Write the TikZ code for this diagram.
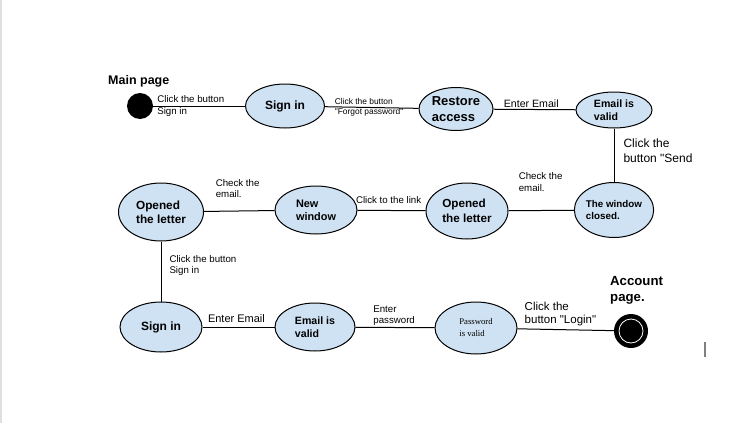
\documentclass[tikz,border=0pt]{standalone}
\usepackage{fontspec}
\setmainfont{Liberation Sans}[Ligatures=TeXOff]
\newfontfamily\timesfont{Liberation Serif}
\usepackage{tikz}
\usetikzlibrary{shapes.geometric}
\definecolor{stateblue}{HTML}{CFE2F3}
\newcommand{\setfs}[2]{\fontsize{#1}{#2}\selectfont}
\tikzstyle{state} = [draw,ellipse,fill=stateblue,line width=1pt,inner sep=0pt,align=left]
\tikzstyle{terminal} = [circle,fill=black,inner sep=0pt]
\tikzstyle{line} = [line width=1pt]
\tikzstyle{lbl} = [inner sep=0pt,align=left,font=\setfs{9.7}{11.5}]
\tikzstyle{title} = [inner sep=0pt,align=left,font=\bfseries\setfs{12.5}{16}]

\begin{document}
\begin{tikzpicture}[x=1pt, y=-1pt]
    \useasboundingbox (0,0) rectangle (751,423);
    \draw[gray!25, line width=1.5pt] (1,0) -- (1,423);

    % top row: main page to the e-mail check
    \node[terminal, minimum size=26pt] (start) at (140,106) {};
    \node[title, anchor=west] (mainpage) at (108,81) {Main page};
    \node[state, minimum width=79pt, minimum height=44pt,
          font=\bfseries\setfs{12}{14}] (signin) at (285,106) {Sign in};
    \node[state, minimum width=74pt, minimum height=43pt,
          font=\bfseries\setfs{13}{16}] (restore) at (456,109) {Restore\\access};
    \node[state, minimum width=76pt, minimum height=36pt,
          font=\bfseries\setfs{10.6}{13}] (validtop) at (614,110) {Email is\\valid};

    % middle row: the letter
    \node[state, minimum width=76pt, minimum height=55pt,
          font=\bfseries\setfs{9.8}{12}] (closed) at (614,210) {The window\\closed.};
    \node[state, minimum width=82pt, minimum height=56pt,
          font=\bfseries\setfs{11.7}{14.5}] (letterR) at (467,211) {Opened\\the letter};
    \node[state, minimum width=82pt, minimum height=48pt,
          font=\bfseries\setfs{10.9}{13}] (newwin) at (316,210) {New\\window};
    \node[state, minimum width=85pt, minimum height=58pt,
          font=\bfseries\setfs{11.8}{14}] (letterL) at (161,212) {Opened\\the letter};

    % bottom row: back to the account
    \node[state, minimum width=82pt, minimum height=50pt,
          font=\bfseries\setfs{12}{14}] (signinB) at (161,327) {Sign in};
    \node[state, minimum width=80pt, minimum height=48pt,
          font=\bfseries\setfs{10.6}{13}] (validB) at (315,327) {Email is\\valid};
    \node[state, minimum width=82pt, minimum height=52pt,
          font=\timesfont\setfs{8.7}{12}] (pwvalid) at (476,328) {Password\\is valid};
    \node[terminal, minimum size=34pt] (finish) at (631,331) {};
    \node[circle, draw=white, line width=0.8pt, minimum size=24pt,
          inner sep=0pt] (finishring) at (finish) {};
    \node[title, anchor=north west, font=\bfseries\setfs{13.2}{16}] (account)
          at (610,276) {Account\\page.};

    % now link the nodes
    \draw [line] (start) -- node[lbl, pos=0.04, anchor=west] (lblA)
          {Click the button\\Sign in} (signin);
    \draw [line] (signin) -- node[lbl, pos=0.1, anchor=west, font=\setfs{8.4}{10}] (lblB)
          {Click the button\\"Forgot password"} (restore);
    \draw [line] (restore) -- node[lbl, pos=0.12, anchor=south west, yshift=1.5pt,
          font=\setfs{10.6}{12}] (lblC) {Enter Email} (validtop);
    \draw [line] (validtop) -- node[lbl, pos=0.42, anchor=west, xshift=9pt,
          font=\setfs{12}{15}] (lblD) {Click the\\button "Send} (closed);
    \draw [line] (letterR) -- node[lbl, pos=0.15, anchor=south west, yshift=19pt] (lblE)
          {Check the\\email.} (closed);
    \draw [line] (newwin) -- node[lbl, at start, anchor=south west, xshift=-2pt,
          yshift=6pt] (lblF) {Click to the link} (letterR);
    \draw [line] (letterL) -- node[lbl, pos=0.16, anchor=south west, yshift=13pt] (lblG)
          {Check the\\email.} (newwin);
    \draw [line] (letterL) -- node[lbl, pos=0.4, anchor=west, xshift=8pt] (lblH)
          {Click the button\\Sign in} (signinB);
    \draw [line] (signinB) -- node[lbl, pos=0.07, anchor=south west, yshift=4pt,
          font=\setfs{11}{13}] (lblI) {Enter Email} (validB);
    \draw [line] (validB) -- node[lbl, pos=0.22, anchor=south west, yshift=1pt] (lblJ)
          {Enter\\password} (pwvalid);
    \draw [line] (pwvalid) -- node[lbl, pos=0.07, anchor=south west, yshift=3pt,
          font=\setfs{11.5}{13}] (lblK) {Click the\\button "Login"} (finish);

    % text cursor
    \draw [gray, line width=1.5pt] (705,342) -- (705,357);
\end{tikzpicture}
\end{document}
